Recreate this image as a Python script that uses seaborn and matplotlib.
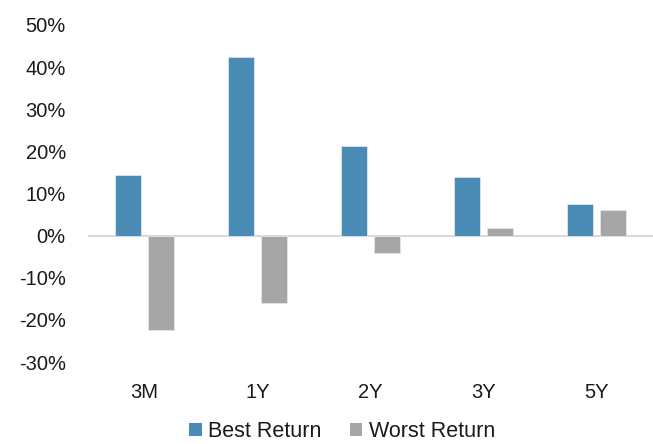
import matplotlib
matplotlib.use("Agg")
import matplotlib.pyplot as plt
import seaborn as sns
import pandas as pd
from matplotlib.ticker import FuncFormatter
from matplotlib.patches import Patch

categories = ["3M", "1Y", "2Y", "3Y", "5Y"]
best_return = [14.5, 42.5, 21.3, 13.8, 7.6]
worst_return = [-22.3, -16.0, -4.1, 1.7, 6.2]
series_names = ["Best Return", "Worst Return"]
y_ticks = [-30, -20, -10, 0, 10, 20, 30, 40, 50]

df = pd.DataFrame({
    "period": categories * 2,
    "value": best_return + worst_return,
    "series": [series_names[0]] * len(categories) + [series_names[1]] * len(categories),
})

sns.set_theme(style="white")
plt.rcParams["font.family"] = ["Liberation Sans", "DejaVu Sans"]

fig = plt.figure(figsize=(6.53, 4.44), dpi=100)
ax = fig.add_axes([88 / 653, (444 - 362) / 444, 1 - 88 / 653, (362 - 25) / 444])

palette = {series_names[0]: "#4a8cb6", series_names[1]: "#a6a6a6"}
sns.barplot(data=df, x="period", y="value", hue="series", order=categories,
            hue_order=series_names, palette=palette, width=0.57, gap=0.19,
            ax=ax, legend=False, saturation=1, edgecolor="#dde6ee", linewidth=0.6)

ax.set_ylim(-30, 50)
ax.set_xlim(-0.5, 4.5)
ax.set_yticks(y_ticks)
ax.yaxis.set_major_formatter(FuncFormatter(lambda v, p: f"{int(v)}%"))
ax.axhline(0, color="#d9d9d9", lw=1.5, zorder=0)
for s in ax.spines.values():
    s.set_visible(False)
ax.set_xlabel("")
ax.set_ylabel("")
ax.tick_params(axis="y", length=0, pad=16, labelsize=14.5, labelcolor="#1a1a1a")
ax.tick_params(axis="x", length=0, pad=15, labelsize=14.5, labelcolor="#1a1a1a")

handles = [Patch(facecolor=palette[n], edgecolor="none") for n in series_names]
fig.legend(handles, series_names, loc="center", bbox_to_anchor=(342 / 653, 0.028),
           ncol=2, frameon=False, fontsize=15.5, handlelength=0.6, handleheight=0.6,
           handletextpad=0.3, columnspacing=1.3, labelcolor="#1a1a1a",
           borderpad=0.1)

fig.savefig("out.png", dpi=100)
